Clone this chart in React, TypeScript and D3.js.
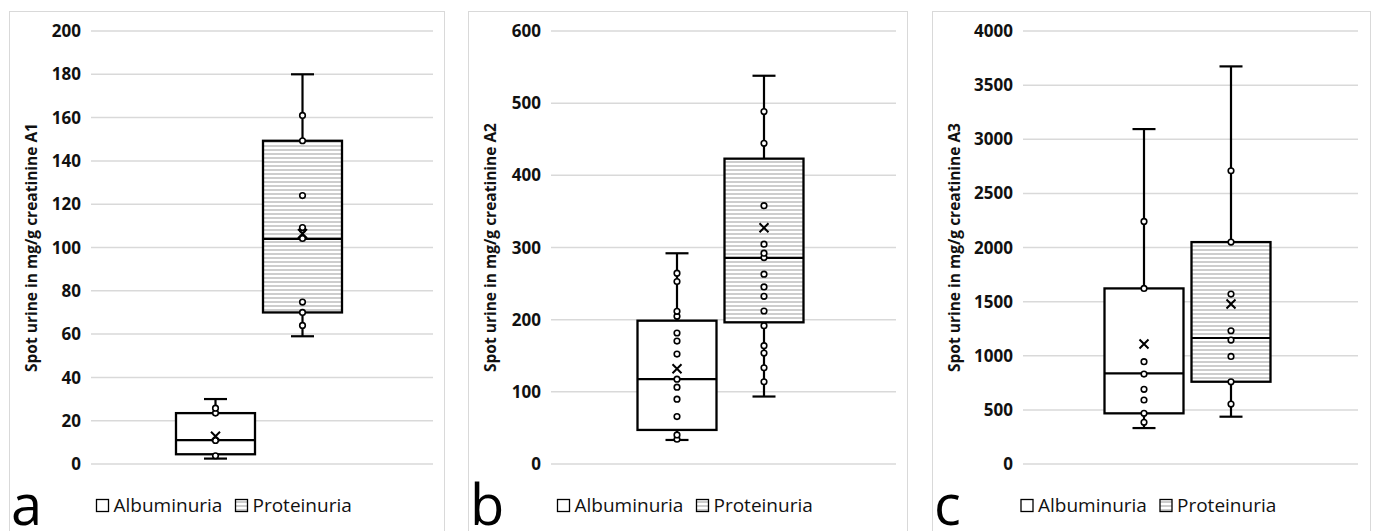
import React from "react";
import * as d3 from "d3";

// series / categories
const series = ["Albuminuria", "Proteinuria"];
const panelLetters = ["a", "b", "c"];
const axisTitles = [
  "Spot urine in mg/g creatinine A1",
  "Spot urine in mg/g creatinine A2",
  "Spot urine in mg/g creatinine A3",
];
const yMax = [200, 600, 4000];
const yStep = [20, 100, 500];

// box stats per panel: [albuminuria, proteinuria]
const whiskerLow = [[2.5, 59], [33.3, 93.5], [332, 437]];
const q1 = [[4.5, 70], [47.2, 196.3], [468, 760]];
const median = [[11, 104], [117.6, 285.6], [837, 1164]];
const q3 = [[23.5, 149.3], [198.6, 423.1], [1622, 2050]];
const whiskerHigh = [[30, 180], [292, 538], [3094, 3673]];
const means = [[12.8, 106.4], [131.9, 327.3], [1108, 1478]];

const pointsA1 = [[3.8, 10.9, 23.5, 25.8], [64, 70, 74.8, 104.2, 108.2, 109.2, 124, 149.3, 161]];
const pointsA2 = [
  [34.3, 40.3, 65.7, 89.8, 106.5, 117.6, 152.3, 170.4, 181.5, 204.6, 211.6, 252.8, 264.4],
  [113.9, 133.3, 153.7, 163.9, 191.7, 212, 232.4, 245.4, 263, 286.1, 292.1, 304.6, 357.9, 444.4, 488.4],
];
const pointsA3 = [
  [385, 468, 591, 690, 831, 945, 1622, 2241],
  [554, 760, 994, 1145, 1231, 1570, 2050, 2709],
];
const points = [pointsA1, pointsA2, pointsA3];

// layout of the three frames
const frameLeft = [9, 468, 932];
const frameRight = [444, 907, 1370];
const plotLeft = [91, 551, 1023];
const plotRight = [433, 896, 1358];

const FONT = "'Open Sans', sans-serif";
const GRID = "#d9d9d9";

function Panel({ i }) {
  const y = d3.scaleLinear().domain([0, yMax[i]]).range([464, 31]);
  const ticks = d3.range(0, yMax[i] + 1, yStep[i]);
  const cx = (plotLeft[i] + plotRight[i]) / 2 - 3;
  const x = d3.scaleBand().domain(series).range([cx - 83, cx + 83]).paddingInner(0.092);
  const bw = x.bandwidth();
  const cap = 11.5;
  const fCenter = (frameLeft[i] + frameRight[i]) / 2;

  return (
    <g>
      <rect
        x={frameLeft[i] + 0.5}
        y={11.5}
        width={frameRight[i] - frameLeft[i]}
        height={560}
        fill="#fff"
        stroke={GRID}
        strokeWidth={1}
      />
      {ticks.map((t) => (
        <g key={t}>
          <line x1={plotLeft[i]} x2={plotRight[i]} y1={y(t)} y2={y(t)} stroke={GRID} strokeWidth={1.5} />
          <text
            x={plotLeft[i] - 10}
            y={y(t)}
            dy="0.36em"
            textAnchor="end"
            fontFamily={FONT}
            fontWeight="bold"
            fontSize={17}
            fill="#111"
          >
            {t}
          </text>
        </g>
      ))}
      <text
        transform={`translate(${frameLeft[i] + 23},${(y(0) + y(yMax[i])) / 2}) rotate(-90)`}
        dy="0.35em"
        textAnchor="middle"
        fontFamily={FONT}
        fontWeight="bold"
        fontSize={15.5}
        fill="#111"
      >
        {axisTitles[i]}
      </text>

      {series.map((s, j) => {
        const x0 = x(s);
        const mx = x0 + bw / 2;
        const fill = j === 1 ? "url(#hatch)" : "#fff";
        const m = means[i][j];
        return (
          <g key={s}>
            <line x1={mx} x2={mx} y1={y(whiskerHigh[i][j])} y2={y(q3[i][j])} stroke="#000" strokeWidth={2.2} />
            <line x1={mx} x2={mx} y1={y(q1[i][j])} y2={y(whiskerLow[i][j])} stroke="#000" strokeWidth={2.2} />
            <line x1={mx - cap} x2={mx + cap} y1={y(whiskerHigh[i][j])} y2={y(whiskerHigh[i][j])} stroke="#000" strokeWidth={2.2} />
            <line x1={mx - cap} x2={mx + cap} y1={y(whiskerLow[i][j])} y2={y(whiskerLow[i][j])} stroke="#000" strokeWidth={2.2} />
            <rect
              x={x0}
              y={y(q3[i][j])}
              width={bw}
              height={y(q1[i][j]) - y(q3[i][j])}
              fill={fill}
              stroke="#000"
              strokeWidth={2.3}
            />
            <line x1={x0} x2={x0 + bw} y1={y(median[i][j])} y2={y(median[i][j])} stroke="#000" strokeWidth={2.2} />
            {points[i][j].map((p, k) => (
              <circle key={k} cx={mx} cy={y(p)} r={2.8} fill="#fff" stroke="#000" strokeWidth={1.6} />
            ))}
            <path
              d={`M${mx - 4.5},${y(m) - 4.5}L${mx + 4.5},${y(m) + 4.5}M${mx + 4.5},${y(m) - 4.5}L${mx - 4.5},${y(m) + 4.5}`}
              stroke="#000"
              strokeWidth={2}
            />
          </g>
        );
      })}

      <Legend center={fCenter} />

      <text
        x={frameLeft[i] + 2}
        y={525}
        fontFamily={FONT}
        fontSize={56}
        fill="#000"
      >
        {panelLetters[i]}
      </text>
    </g>
  );
}

function Legend({ center }) {
  const widths = [111, 104];
  const sq = 12;
  const gap = 5;
  const between = 11;
  const total = widths.reduce((a, w) => a + sq + gap + w, 0) + between;
  let cur = center - total / 2;
  return (
    <g>
      {series.map((s, j) => {
        const x0 = cur;
        cur += sq + gap + widths[j] + between;
        return (
          <g key={s}>
            <rect
              x={x0}
              y={499.5}
              width={sq}
              height={sq}
              fill={j === 1 ? "url(#hatch)" : "#fff"}
              stroke="#000"
              strokeWidth={1.3}
            />
            <text x={x0 + sq + gap} y={511.5} fontFamily={FONT} fontSize={19} fill="#111">
              {s}
            </text>
          </g>
        );
      })}
    </g>
  );
}

export default function App() {
  return (
    <svg
      width={1375}
      height={531}
      style={{ position: "absolute", left: 0, top: 0, background: "#fff" }}
    >
      <defs>
        <pattern id="hatch" width={8} height={4} patternUnits="userSpaceOnUse">
          <rect width={8} height={4} fill="#fff" />
          <line x1={0} x2={8} y1={2} y2={2} stroke="#9c9c9c" strokeWidth={1} />
        </pattern>
      </defs>
      {panelLetters.map((_, i) => (
        <Panel key={i} i={i} />
      ))}
    </svg>
  );
}
